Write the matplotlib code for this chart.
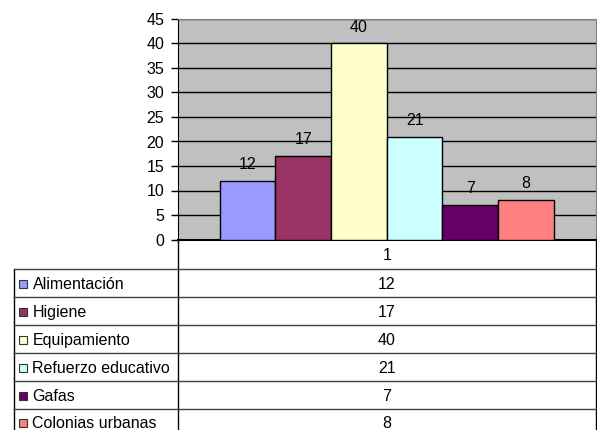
import matplotlib
matplotlib.use("Agg")
import matplotlib.pyplot as plt
from matplotlib.lines import Line2D
from matplotlib.patches import Rectangle

plt.rcParams['font.family'] = ['Liberation Sans', 'DejaVu Sans']

categories = ["Alimentación", "Higiene", "Equipamiento", "Refuerzo educativo", "Gafas", "Colonias urbanas"]
values = [12, 17, 40, 21, 7, 8]
colors = ["#9999FF", "#993366", "#FFFFCC", "#CCFFFF", "#660066", "#FF8080"]
x_label = "1"
yticks = list(range(0, 50, 5))

FS = 11.5
W, H = 597, 430
fig = plt.figure(figsize=(W / 100, H / 100), dpi=100)

# plot area in pixel coordinates
L, R, T, B = 178, 595.5, 19, 239.5
ax = fig.add_axes([L / W, 1 - B / H, (R - L) / W, (B - T) / H])
ax.set_facecolor("#C0C0C0")
ax.set_xlim(-0.5, 0.5)
ax.set_ylim(0, 45)
ax.set_yticks(yticks)
ax.set_yticklabels([str(t) for t in yticks], fontsize=FS)
ax.set_xticks([])
ax.tick_params(axis='y', direction='out', length=5, width=1, color='black', pad=5)
for y in yticks[1:]:
    ax.axhline(y, color='black', lw=1, zorder=1)
ax.spines['left'].set_color('black')
ax.spines['bottom'].set_color('black')
ax.spines['bottom'].set_linewidth(1.5)
ax.spines['top'].set_color('#808080')
ax.spines['right'].set_color('#808080')

n = len(values)
w = 1.0 / (n + 1.5)
for i, (v, c) in enumerate(zip(values, colors)):
    xc = -0.5 + 0.75 * w + (i + 0.5) * w
    ax.bar(xc, v, width=w, color=c, edgecolor='black', lw=1, zorder=3)
    ax.annotate(str(v), (xc, v), xytext=(0, 8.5), textcoords='offset points',
                ha='center', va='baseline', fontsize=FS, zorder=4)


def fx(px):
    return px / W


def fy(py):
    return 1 - py / H


def hline(x0, x1, y, color='black', lw=1.0):
    fig.add_artist(Line2D([fx(x0), fx(x1)], [fy(y), fy(y)], color=color, lw=lw,
                          transform=fig.transFigure))


def vline(x, y0, y1, color='black', lw=1.0):
    fig.add_artist(Line2D([fx(x), fx(x)], [fy(y0), fy(y1)], color=color, lw=lw,
                          transform=fig.transFigure))


# data table
TL = 14
row_top = 269
row_h = 27.9
hdr_top = 239.5
vline(L, hdr_top, 440)
vline(R, hdr_top, 440)
vline(TL, row_top, 440)
fig.text(fx((L + R) / 2), fy((hdr_top + row_top) / 2 + 1), x_label, ha='center', va='center', fontsize=FS)
for i, (cat, v, c) in enumerate(zip(categories, values, colors)):
    y0 = row_top + i * row_h
    hline(TL, R, y0, color='#404040')
    yc = y0 + row_h / 2
    fig.add_artist(Rectangle((fx(19), fy(yc + 5)), 8 / W, 8 / H, facecolor=c,
                             edgecolor='#333333', lw=0.8, transform=fig.transFigure))
    fig.text(fx(32.5), fy(yc + 1.5), cat, ha='left', va='center', fontsize=FS)
    fig.text(fx((L + R) / 2), fy(yc + 1.5), str(v), ha='center', va='center', fontsize=FS)

fig.savefig("out.png", dpi=100, facecolor='white')
